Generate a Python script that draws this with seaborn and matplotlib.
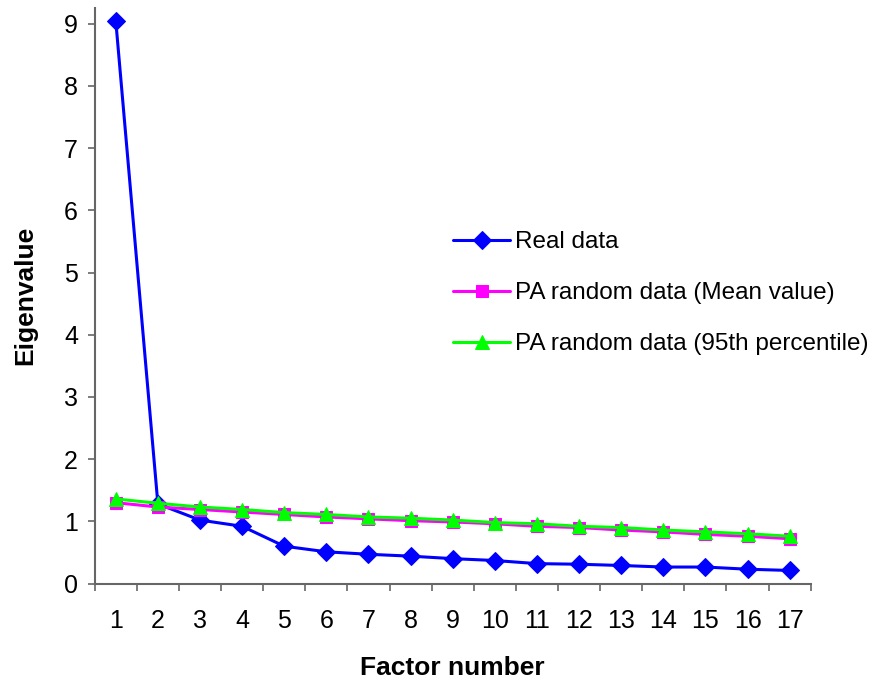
import matplotlib
matplotlib.use("Agg")
import matplotlib.pyplot as plt
import seaborn as sns
import pandas as pd
import numpy as np

factors = [str(i) for i in range(1, 18)]
real_data = [9.05, 1.28, 1.02, 0.92, 0.60, 0.51, 0.47, 0.44, 0.40, 0.37, 0.32, 0.31, 0.29, 0.265, 0.265, 0.23, 0.21]
pa_mean = [1.30, 1.23, 1.19, 1.15, 1.11, 1.07, 1.04, 1.01, 0.99, 0.96, 0.92, 0.90, 0.86, 0.83, 0.79, 0.76, 0.72]
pa_95 = [1.36, 1.29, 1.23, 1.19, 1.14, 1.11, 1.07, 1.05, 1.02, 0.98, 0.96, 0.92, 0.90, 0.86, 0.83, 0.80, 0.76]
series_names = ["Real data", "PA random data (Mean value)", "PA random data (95th percentile)"]

sns.set_style("white")
plt.rcParams['font.family'] = ['Liberation Sans', 'DejaVu Sans']
plt.rcParams['text.color'] = 'black'
plt.rcParams['axes.labelcolor'] = 'black'
plt.rcParams['xtick.labelcolor'] = 'black'
plt.rcParams['ytick.labelcolor'] = 'black'

fig = plt.figure(figsize=(8.72, 6.82), dpi=100)
ax = fig.add_axes([0.1086, 0.1444, 0.8211, 0.8436])

pos = np.arange(len(factors))
styles = [("#0000FF", "D", 9), ("#FF00FF", "s", 8), ("#00FF00", "^", 9.5)]
for vals, name, (col, mk, ms) in zip([real_data, pa_mean, pa_95], series_names, styles):
    df = pd.DataFrame({"x": pos, "y": vals})
    sns.lineplot(data=df, x="x", y="y", ax=ax, color=col, marker=mk, markersize=ms,
                 markeredgecolor=col, linewidth=2.2, label=name, sort=False)

ax.set_xlim(-0.5, 16.5)
ax.set_ylim(0, 9.25)
ax.set_yticks(range(0, 10))
ax.set_xticks(pos)
ax.set_xticklabels(factors)
ax.set_xticks(np.arange(-0.5, 17, 1), minor=True)
ax.tick_params(axis='x', which='major', length=0, pad=18, labelsize=18)
ax.tick_params(axis='x', which='minor', length=5, width=1.2, color='#666666', direction='out', bottom=True)
ax.tick_params(axis='y', which='major', length=5, width=1.2, color='#666666', direction='out', left=True, labelsize=18, pad=7)

for s in ['top', 'right']:
    ax.spines[s].set_visible(False)
for s in ['left', 'bottom']:
    ax.spines[s].set_color('#666666')
    ax.spines[s].set_linewidth(1.5)

ax.set_xlabel("Factor number", fontsize=19, fontweight='bold', labelpad=17)
ax.set_ylabel("Eigenvalue", fontsize=19, fontweight='bold', labelpad=19)

leg = ax.legend(loc='upper left', bbox_to_anchor=(453 / 872, 1 - 231 / 682), bbox_transform=fig.transFigure,
                frameon=False, fontsize=17.5, handlelength=2.35, labelspacing=1.2,
                handletextpad=0.2, borderaxespad=0, borderpad=0)

fig.savefig("out.png", dpi=100)
